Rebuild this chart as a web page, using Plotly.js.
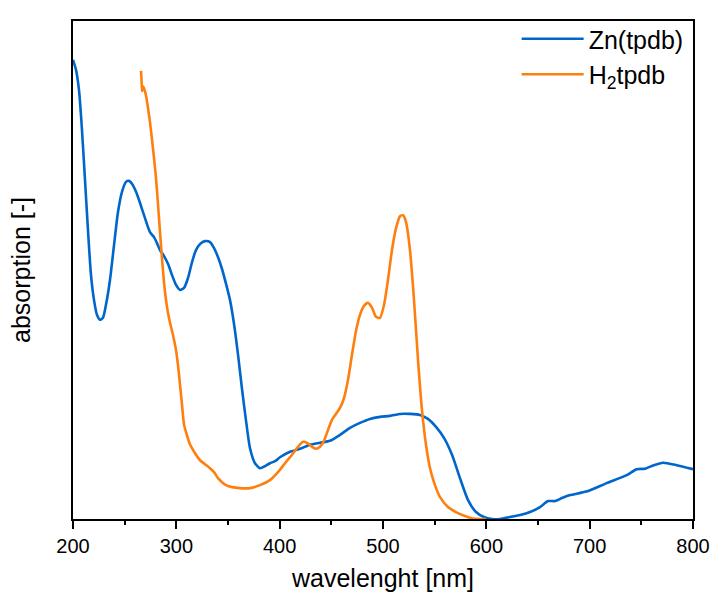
<!DOCTYPE html>
<html>
<head>
<meta charset="utf-8">
<script src="https://cdn.plot.ly/plotly-3.0.1.min.js"></script>
<style>html,body{margin:0;padding:0;background:#fff;}#chart{width:711px;height:597px;}</style>
</head>
<body>
<div id="chart"></div>
<script>
// Zn(tpdb) absorption spectrum (arbitrary units, 0 = baseline)
const znWavelength = [200,202.9,205.8,208.7,211.6,214.5,217.4,220.3,223.2,226.1,229,231.9,235.8,239.7,243.5,247.4,251.3,254.2,257.1,261,264.8,269.7,274.5,278.4,281.3,284.2,288.1,292,295.8,299.7,303.6,307.4,311.3,315.2,319,322.9,327.7,332.6,336.5,340.3,344.2,348.1,351.9,355.8,359.7,363.5,367.4,371.3,376.1,380.9,385.8,390.6,395.5,400.3,410,419.7,429.4,439,448.7,458.4,468.1,477.7,487.4,497.1,506.8,516.5,526.1,535.8,543.5,551.3,559,566.8,574.5,582.3,590,597.7,605.5,613.2,622.9,632.6,642.3,651.9,656.8,659.7,666.5,673.2,681,696.8,716.5,735.8,745.5,753.6,762,771,784.2,800];
const znAbsorption = [0.922,0.902,0.861,0.781,0.681,0.580,0.490,0.440,0.410,0.400,0.404,0.430,0.480,0.550,0.616,0.657,0.677,0.679,0.673,0.657,0.635,0.604,0.576,0.566,0.554,0.540,0.528,0.512,0.490,0.470,0.460,0.464,0.484,0.516,0.540,0.552,0.558,0.556,0.544,0.526,0.502,0.472,0.440,0.392,0.330,0.262,0.198,0.142,0.112,0.102,0.106,0.112,0.116,0.124,0.135,0.141,0.149,0.153,0.157,0.169,0.183,0.193,0.201,0.205,0.207,0.211,0.211,0.209,0.201,0.185,0.163,0.129,0.082,0.038,0.014,0.004,0.0,0.0,0.004,0.008,0.014,0.024,0.032,0.036,0.036,0.042,0.048,0.055,0.072,0.088,0.100,0.101,0.108,0.113,0.108,0.100];

// H2tpdb absorption spectrum
const h2Wavelength = [265.8,266.3,266.8,267.7,268.7,270.6,272.6,274.5,276.5,278.4,280.3,282.3,284.2,286.1,288.1,290,291.9,293.9,296.8,299.7,301.6,303.6,305.5,307.4,310.3,313.2,318.1,322.9,327.7,332.6,336.5,340.3,344.2,348.1,353.9,361.6,371.3,381,390.6,398.4,405.2,411.9,417.7,422.6,426.5,431.3,435.2,439,442.9,446.8,450.6,454.5,458.4,462.3,466.1,470,473.9,477.7,481.6,485.5,489.4,493.2,497.1,501,504.8,508.7,512.6,516.5,519.4,522.3,526.1,530,533.9,537.7,541.6,545.5,550.3,555.2,562.9,570.6,579.4,587.1,599.7];
const h2Absorption = [0.900,0.882,0.859,0.869,0.865,0.851,0.825,0.797,0.761,0.725,0.685,0.631,0.576,0.524,0.474,0.440,0.414,0.394,0.369,0.339,0.309,0.269,0.229,0.190,0.168,0.150,0.132,0.118,0.110,0.102,0.094,0.082,0.074,0.068,0.064,0.062,0.062,0.068,0.078,0.094,0.112,0.129,0.145,0.155,0.153,0.145,0.141,0.145,0.157,0.179,0.199,0.211,0.223,0.243,0.279,0.330,0.378,0.410,0.428,0.434,0.424,0.406,0.404,0.430,0.480,0.540,0.584,0.608,0.610,0.596,0.540,0.440,0.319,0.219,0.149,0.102,0.068,0.044,0.024,0.014,0.006,0.001,0.0];

const tickVals = [200,300,400,500,600,700,800];
const tickText = ['200','300','400','500','600','700','800'];

const font = 'Liberation Sans, Arial, sans-serif';

const traces = [
  {x: znWavelength, y: znAbsorption, name: 'Zn(tpdb)', type: 'scatter', mode: 'lines',
   line: {color: '#0066CC', width: 2.6, shape: 'spline', smoothing: 0.6}},
  {x: h2Wavelength, y: h2Absorption, name: 'H<sub>2</sub>tpdb', type: 'scatter', mode: 'lines',
   line: {color: '#FF7F0E', width: 2.6, shape: 'spline', smoothing: 0.6}}
];

const layout = {
  width: 711, height: 597,
  margin: {l: 73, r: 18, t: 21, b: 78},
  paper_bgcolor: '#fff', plot_bgcolor: '#fff',
  font: {family: font, color: '#000', size: 20},
  showlegend: true,
  legend: {x: 0.993, y: 1.01, xanchor: 'right', yanchor: 'top', bgcolor: 'rgba(0,0,0,0)',
           font: {family: font, size: 25, color: '#000'}, itemwidth: 62, tracegroupgap: 0},
  xaxis: {
    range: [200, 800], tickmode: 'array', tickvals: tickVals, ticktext: tickText,
    ticks: 'outside', ticklen: 8, tickwidth: 1.8, tickcolor: '#000',
    minor: {dtick: 50, ticks: 'outside', ticklen: 4, tickwidth: 1.8, tickcolor: '#000'},
    showline: true, linecolor: '#000', linewidth: 1.8, mirror: true,
    showgrid: false, zeroline: false,
    tickfont: {family: font, size: 20, color: '#000'},
    title: {text: 'wavelenght [nm]', font: {family: font, size: 25, color: '#000'}, standoff: 14}
  },
  yaxis: {
    range: [0, 1], showticklabels: false, ticks: '',
    showline: true, linecolor: '#000', linewidth: 1.8, mirror: true,
    showgrid: false, zeroline: false,
    title: {text: 'absorption [-]', font: {family: font, size: 25, color: '#000'}, standoff: 33}
  }
};

Plotly.newPlot('chart', traces, layout, {displayModeBar: false, staticPlot: true});
</script>
</body>
</html>
